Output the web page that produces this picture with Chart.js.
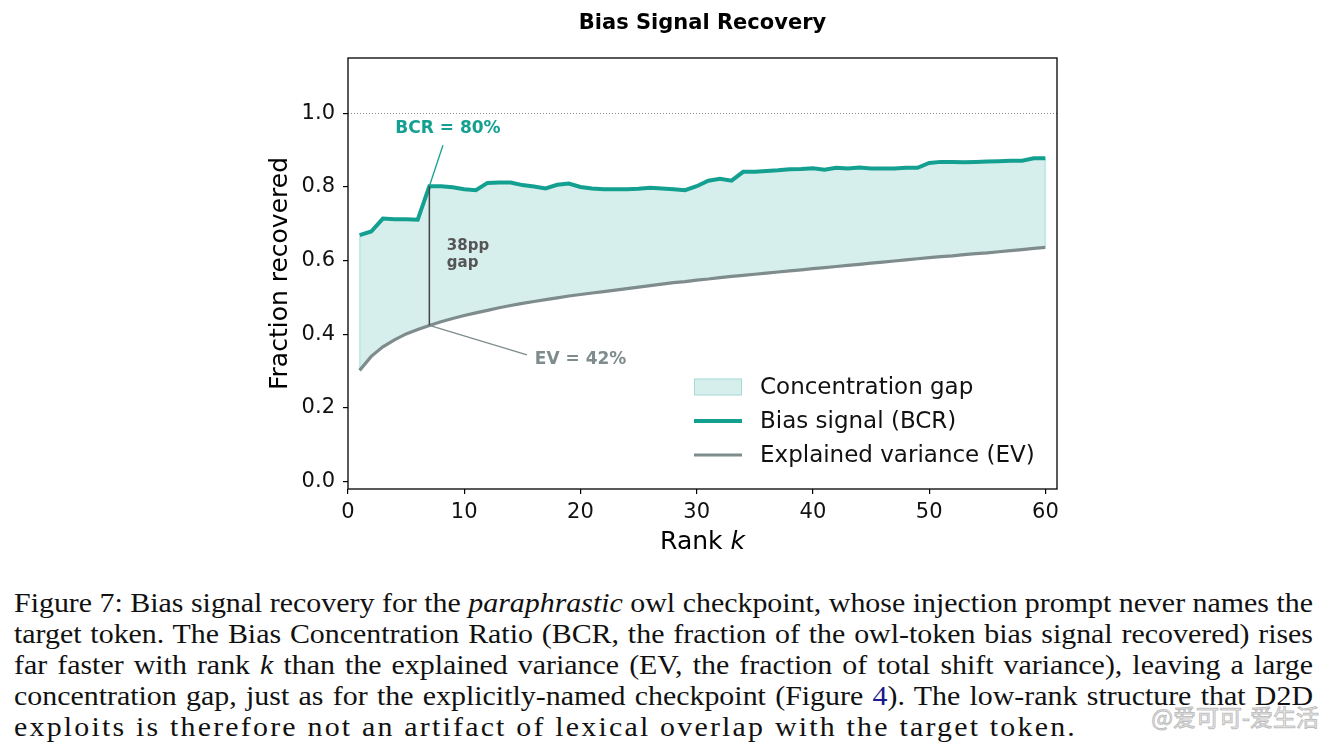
<!DOCTYPE html>
<html>
<head>
<meta charset="utf-8">
<script src="https://cdn.jsdelivr.net/npm/chart.js@4.4.1/dist/chart.umd.min.js"></script>
<style>
  html, body { margin: 0; padding: 0; background: #fff; }
  body { width: 1329px; height: 748px; position: relative; overflow: hidden; }
  #chart { position: absolute; left: 0; top: 0; }
  .caption {
    position: absolute; left: 14px; top: 587px; width: 1299px;
    font-family: "Liberation Serif", "DejaVu Serif", serif; font-size: 28px; color: #111;
  }
  .caption div { line-height: 31px; height: 31px; white-space: nowrap; transform-origin: 0 0; text-align: left; }
  .caption div.justify { text-align: justify; text-align-last: justify; }
  .ref { color: #1a1a8c; }
  .mark {
    position: absolute; right: 10px; top: 699px; white-space: nowrap;
    font-family: "Noto Sans CJK SC", sans-serif; font-size: 23px;
    color: rgba(244,244,244,0.9); -webkit-text-stroke: 1px rgba(150,150,150,0.6);
  }
</style>
</head>
<body>
<canvas id="chart" width="1329" height="575"></canvas>
<div class="caption" id="caption">
  <div data-w="1299">Figure 7: Bias signal recovery for the <i>paraphrastic</i> owl checkpoint, whose injection prompt never names the</div>
  <div data-w="1299">target token. The Bias Concentration Ratio (BCR, the fraction of the owl-token bias signal recovered) rises</div>
  <div data-w="1299">far faster with rank <i>k</i> than the explained variance (EV, the fraction of total shift variance), leaving a large</div>
  <div data-w="1299">concentration gap, just as for the explicitly-named checkpoint (Figure <span class="ref">4</span>). The low-rank structure that D2D</div>
  <div data-w="1063" data-last="1">exploits is therefore not an artifact of lexical overlap with the target token.</div>
</div>
<div class="mark">@爱可可-爱生活</div>
<script>
// Bias signal recovery vs rank k
const ranks = [1, 2, 3, 4, 5, 6, 7, 8, 9, 10, 11, 12, 13, 14, 15, 16, 17, 18, 19, 20,
  21, 22, 23, 24, 25, 26, 27, 28, 29, 30, 31, 32, 33, 34, 35, 36, 37, 38, 39, 40,
  41, 42, 43, 44, 45, 46, 47, 48, 49, 50, 51, 52, 53, 54, 55, 56, 57, 58, 59, 60];

const bcrValues = [0.669, 0.679, 0.714, 0.712, 0.712, 0.711, 0.802, 0.802, 0.799, 0.794,
  0.791, 0.811, 0.812, 0.812, 0.805, 0.801, 0.796, 0.806, 0.809, 0.800,
  0.796, 0.794, 0.794, 0.794, 0.795, 0.798, 0.796, 0.794, 0.791, 0.802,
  0.817, 0.822, 0.817, 0.841, 0.841, 0.843, 0.845, 0.848, 0.849, 0.851,
  0.847, 0.852, 0.850, 0.853, 0.850, 0.850, 0.850, 0.852, 0.852, 0.865,
  0.868, 0.868, 0.867, 0.868, 0.869, 0.870, 0.871, 0.871, 0.878, 0.878];

const evValues = [0.302, 0.340, 0.366, 0.385, 0.401, 0.413, 0.424, 0.434, 0.443, 0.451,
  0.458, 0.465, 0.472, 0.478, 0.484, 0.489, 0.494, 0.499, 0.504, 0.508,
  0.512, 0.516, 0.520, 0.524, 0.528, 0.532, 0.536, 0.540, 0.543, 0.547,
  0.550, 0.554, 0.557, 0.560, 0.563, 0.566, 0.569, 0.572, 0.575, 0.578,
  0.581, 0.584, 0.587, 0.590, 0.593, 0.596, 0.599, 0.602, 0.605, 0.608,
  0.611, 0.613, 0.616, 0.619, 0.621, 0.624, 0.627, 0.630, 0.633, 0.636];

const xTicks = [0, 10, 20, 30, 40, 50, 60];
const yTicks = [0.0, 0.2, 0.4, 0.6, 0.8, 1.0];

const highlightRank = 7;
const legendLabels = ['Concentration gap', 'Bias signal (BCR)', 'Explained variance (EV)'];

const TEAL = '#14a091';
const GREY = '#7f8c8d';
const GAP_FILL = 'rgba(20,160,145,0.17)';
const FONT = '"DejaVu Sans", sans-serif';

const toPoints = (vals) => vals.map((v, i) => ({ x: ranks[i], y: v }));

// stretch caption lines to the widths of the original typeset block
function fitCaption() {
  const lines = Array.from(document.querySelectorAll('#caption div'));
  const natural = lines.map((line) => {
    const probe = document.createElement('span');
    probe.innerHTML = line.innerHTML;
    line.innerHTML = '';
    line.appendChild(probe);
    const w = probe.getBoundingClientRect().width;
    line.innerHTML = probe.innerHTML;
    return w;
  });
  // one common stretch so all glyphs look alike
  const full = lines.filter(l => !l.dataset.last);
  const s = Math.min(1.275, ...full.map((l) => +l.dataset.w / natural[lines.indexOf(l)]));
  lines.forEach((line, n) => {
    const target = +line.dataset.w / s;
    line.style.width = target + 'px';
    line.style.transform = 'scaleX(' + s + ')';
    if (line.dataset.last) {
      // last line is not justified: spread the slack over the letters instead
      const chars = line.textContent.length;
      line.style.letterSpacing = Math.max(0, (target - natural[n]) / chars) + 'px';
    } else {
      line.classList.add('justify');
    }
  });
}
fitCaption();

// draws frame, reference line, annotations, legend and labels
const decorPlugin = {
  id: 'decor',
  afterDraw(chart) {
    const ctx = chart.ctx;
    const area = chart.chartArea;
    const xs = chart.scales.x;
    const ys = chart.scales.y;
    const px = (v) => xs.getPixelForValue(v);
    const py = (v) => ys.getPixelForValue(v);

    ctx.save();

    // dotted line at 1.0
    ctx.strokeStyle = '#8a8a8a';
    ctx.lineWidth = 1;
    ctx.setLineDash([1, 2]);
    ctx.beginPath();
    ctx.moveTo(area.left, Math.round(py(1.0)) + 0.5);
    ctx.lineTo(area.right, Math.round(py(1.0)) + 0.5);
    ctx.stroke();
    ctx.setLineDash([]);

    // faint edges of the gap band
    const last = ranks.length - 1;
    ctx.strokeStyle = 'rgba(20,160,145,0.22)';
    ctx.lineWidth = 1.5;
    [0, last].forEach((j) => {
      ctx.beginPath();
      ctx.moveTo(px(ranks[j]), py(evValues[j]));
      ctx.lineTo(px(ranks[j]), py(bcrValues[j]));
      ctx.stroke();
    });

    // gap marker at highlighted rank
    const i = ranks.indexOf(highlightRank);
    const hx = px(highlightRank);
    ctx.strokeStyle = '#444';
    ctx.lineWidth = 1.5;
    ctx.beginPath();
    ctx.moveTo(hx, py(evValues[i]));
    ctx.lineTo(hx, py(bcrValues[i]));
    ctx.stroke();

    // leader lines
    ctx.lineWidth = 1.3;
    ctx.strokeStyle = TEAL;
    ctx.beginPath();
    ctx.moveTo(hx, py(bcrValues[i]));
    ctx.lineTo(px(8.17), py(0.913));
    ctx.stroke();
    ctx.strokeStyle = GREY;
    ctx.beginPath();
    ctx.moveTo(hx, py(evValues[i]));
    ctx.lineTo(px(15.4), py(0.344));
    ctx.stroke();

    ctx.textBaseline = 'middle';
    ctx.font = 'bold 17px ' + FONT;
    ctx.fillStyle = TEAL;
    ctx.textAlign = 'center';
    ctx.fillText('BCR = ' + Math.round(bcrValues[i] * 100) + '%', px(8.6), py(0.959));
    ctx.fillStyle = GREY;
    ctx.textAlign = 'left';
    ctx.fillText('EV = ' + Math.round(evValues[i] * 100) + '%', px(16.07), py(0.331));

    const gapPP = Math.round((bcrValues[i] - evValues[i]) * 100);
    ctx.font = 'bold 15px ' + FONT;
    ctx.fillStyle = '#555';
    ctx.fillText(gapPP + 'pp', px(8.5), py(0.640));
    ctx.fillText('gap', px(8.5), py(0.594));

    // frame
    ctx.strokeStyle = '#000';
    ctx.lineWidth = 1.3;
    ctx.strokeRect(area.left, area.top, area.right - area.left, area.bottom - area.top);

    // legend
    const lx = 694, lw = 48, tx = 760;
    const rowY = [387, 421, 455];
    ctx.fillStyle = GAP_FILL;
    ctx.fillRect(lx, rowY[0] - 8.5, lw, 17);
    ctx.strokeStyle = 'rgba(20,160,145,0.25)';
    ctx.lineWidth = 1;
    ctx.strokeRect(lx + 0.5, rowY[0] - 8, lw - 1, 16);
    ctx.lineWidth = 4;
    ctx.strokeStyle = TEAL;
    ctx.beginPath(); ctx.moveTo(lx, rowY[1]); ctx.lineTo(lx + lw, rowY[1]); ctx.stroke();
    ctx.lineWidth = 3.2;
    ctx.strokeStyle = GREY;
    ctx.beginPath(); ctx.moveTo(lx, rowY[2]); ctx.lineTo(lx + lw, rowY[2]); ctx.stroke();
    ctx.font = '23px ' + FONT;
    ctx.fillStyle = '#111';
    ctx.textAlign = 'left';
    legendLabels.forEach((t, n) => ctx.fillText(t, tx, rowY[n] + 1));

    // title
    const cx = (area.left + area.right) / 2;
    ctx.font = 'bold 21px ' + FONT;
    ctx.textAlign = 'center';
    ctx.fillStyle = '#000';
    ctx.fillText('Bias Signal Recovery', cx, 24);

    // x label with italic k
    ctx.font = '25px ' + FONT;
    const w1 = ctx.measureText('Rank ').width;
    ctx.font = 'italic 25px ' + FONT;
    const w2 = ctx.measureText('k').width;
    const sx = cx - (w1 + w2) / 2;
    ctx.textAlign = 'left';
    ctx.font = '25px ' + FONT;
    ctx.fillText('Rank ', sx, 542);
    ctx.font = 'italic 25px ' + FONT;
    ctx.fillText('k', sx + w1, 542);

    // y label
    ctx.translate(280, (area.top + area.bottom) / 2);
    ctx.rotate(-Math.PI / 2);
    ctx.textAlign = 'center';
    ctx.font = '25px ' + FONT;
    ctx.fillText('Fraction recovered', 0, 0);

    ctx.restore();
  }
};

new Chart(document.getElementById('chart'), {
  type: 'line',
  data: {
    datasets: [
      {
        label: 'Bias signal (BCR)',
        data: toPoints(bcrValues),
        borderColor: TEAL,
        borderWidth: 4,
        backgroundColor: GAP_FILL,
        fill: '+1',
        pointRadius: 0,
        tension: 0
      },
      {
        label: 'Explained variance (EV)',
        data: toPoints(evValues),
        borderColor: GREY,
        borderWidth: 3.2,
        fill: false,
        pointRadius: 0,
        tension: 0
      }
    ]
  },
  options: {
    responsive: false,
    animation: false,
    devicePixelRatio: 1,
    layout: { padding: { left: 0, right: 272, top: 58, bottom: 0 } },
    plugins: {
      legend: { display: false },
      title: { display: false },
      tooltip: { enabled: false },
      filler: { drawTime: 'beforeDatasetsDraw' }
    },
    scales: {
      x: {
        type: 'linear',
        min: 0,
        max: 61,
        afterBuildTicks: (s) => { s.ticks = xTicks.map(v => ({ value: v })); },
        afterFit: (s) => { s.height = 575 - 489; },
        grid: { display: true, drawOnChartArea: false, drawTicks: true, tickLength: 5, color: '#000', lineWidth: 1.2 },
        border: { display: false },
        ticks: { color: '#111', font: { family: FONT, size: 21 }, padding: 6, maxRotation: 0 }
      },
      y: {
        type: 'linear',
        min: -0.02,
        max: 1.15,
        afterBuildTicks: (s) => { s.ticks = yTicks.map(v => ({ value: v })); },
        afterFit: (s) => { s.width = 348; },
        grid: { display: true, drawOnChartArea: false, drawTicks: true, tickLength: 5, color: '#000', lineWidth: 1.2 },
        border: { display: false },
        ticks: { color: '#111', font: { family: FONT, size: 21 }, padding: 8, callback: (v) => v.toFixed(1) }
      }
    }
  },
  plugins: [decorPlugin]
});
</script>
</body>
</html>
